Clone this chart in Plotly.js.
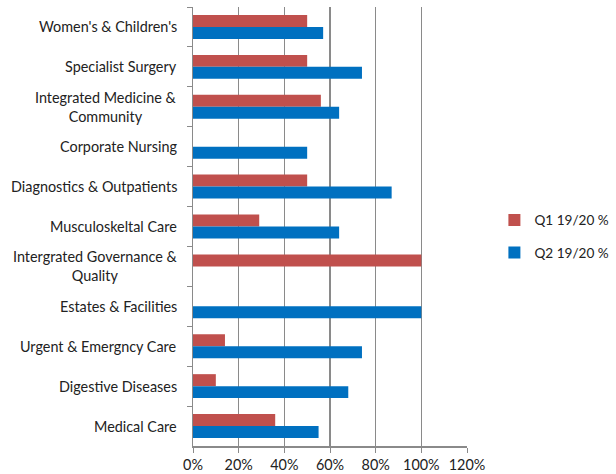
<!DOCTYPE html>
<html>
<head>
<meta charset="utf-8">
<script src="https://cdn.plot.ly/plotly-3.0.1.min.js"></script>
<style>html,body{margin:0;padding:0;background:#fff;}#chart{width:616px;height:474px;}</style>
</head>
<body>
<div id="chart"></div>
<script>
var categories = [
  "Women's & Children's",
  "Specialist Surgery",
  "Integrated Medicine &<br>Community",
  "Corporate Nursing",
  "Diagnostics & Outpatients",
  "Musculoskeltal Care",
  "Intergrated Governance &<br>Quality",
  "Estates & Facilities",
  "Urgent & Emergncy Care",
  "Digestive Diseases",
  "Medical Care"
];
var q1Values = [50, 50, 56, null, 50, 29, 100, null, 14, 10, 36];
var q2Values = [57, 74, 64, 50, 87, 64, null, 100, 74, 68, 55];
var xTickVals = [0, 20, 40, 60, 80, 100, 120];
var xTickText = xTickVals.map(function (v) { return v + '%'; });

var fontFamily = "Lato, 'Open Sans', sans-serif";
var fontSize = 14.4;

var traces = [
  {type: 'bar', orientation: 'h', name: 'Q1 19/20 %', y: categories, x: q1Values,
   marker: {color: '#C0504D'}, legendgroup: 'a', hoverinfo: 'x+y'},
  {type: 'bar', orientation: 'h', name: 'Q2 19/20 %', y: categories, x: q2Values,
   marker: {color: '#0070C0'}, legendgroup: 'b', hoverinfo: 'x+y'}
];

var annotations = categories.map(function (c) {
  return {xref: 'paper', yref: 'y', x: 0, y: c, xshift: -14, xanchor: 'right', yanchor: 'middle',
          align: 'center', text: c, showarrow: false,
          font: {family: fontFamily, size: fontSize, color: '#222'}};
});

var layout = {
  width: 616, height: 474,
  margin: {l: 193, r: 149, t: 7, b: 28, pad: 0, autoexpand: false},
  paper_bgcolor: '#fff', plot_bgcolor: '#fff',
  barmode: 'group', bargap: 0.4, bargroupgap: 0,
  font: {family: fontFamily, size: fontSize, color: '#222'},
  showlegend: true,
  legend: {x: 1.1, xanchor: 'left', y: 0.477, yanchor: 'middle', traceorder: 'grouped',
           tracegroupgap: 12, font: {family: fontFamily, size: 13.6, color: '#222'},
           itemwidth: 30, bgcolor: 'rgba(0,0,0,0)'},
  xaxis: {range: [0, 120], tickmode: 'array', tickvals: xTickVals, ticktext: xTickText, showgrid: true,
          gridcolor: '#8a8a8a', gridwidth: 1.5, showline: true, linecolor: '#8a8a8a', linewidth: 1.5,
          ticks: 'outside', ticklen: 5, tickcolor: '#8a8a8a', zeroline: false, automargin: false,
          tickfont: {family: fontFamily, size: fontSize, color: '#222'}, fixedrange: true},
  yaxis: {type: 'category', autorange: 'reversed', showticklabels: false, showgrid: false,
          showline: true, linecolor: '#8a8a8a', linewidth: 1.5, ticks: 'outside', ticklen: 5,
          tickcolor: '#8a8a8a', tickson: 'boundaries', zeroline: false, fixedrange: true, automargin: false},
  annotations: annotations
};

Plotly.newPlot('chart', traces, layout, {displayModeBar: false, staticPlot: true});
</script>
</body>
</html>
